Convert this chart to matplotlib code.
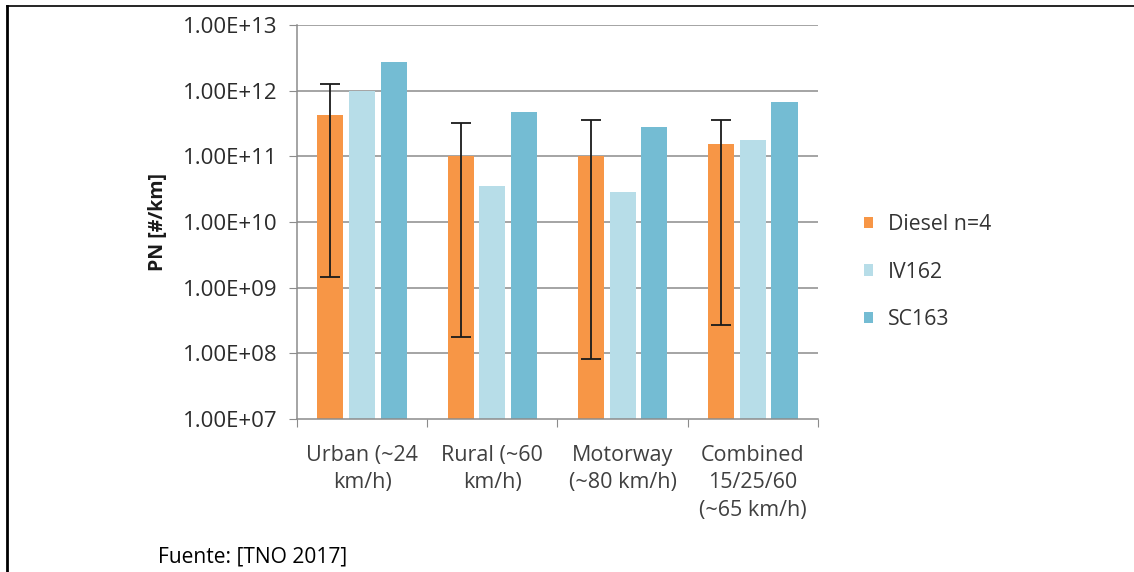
import numpy as np
import matplotlib.pyplot as plt
from matplotlib.lines import Line2D
from matplotlib.ticker import FuncFormatter, FixedLocator

plt.rcParams['font.family'] = ['Open Sans', 'DejaVu Sans']

categories = ['Urban (~24\nkm/h)', 'Rural (~60\nkm/h)', 'Motorway\n(~80 km/h)',
              'Combined\n15/25/60\n(~65 km/h)']
series_names = ['Diesel n=4', 'IV162', 'SC163']
diesel = [4.3e11, 1.0e11, 1.02e11, 1.55e11]
diesel_low = [1.45e9, 1.8e8, 8.2e7, 2.7e8]
diesel_high = [1.26e12, 3.2e11, 3.6e11, 3.6e11]
iv162 = [1.0e12, 3.5e10, 2.9e10, 1.76e11]
sc163 = [2.7e12, 4.8e11, 2.8e11, 6.7e11]
colors = ['#F79646', '#B7DDE8', '#74BCD3']

fig = plt.figure(figsize=(11.34, 5.72), dpi=100)
ax = fig.add_axes([0.2619, 0.2675, 0.4594, 0.6888])

x = np.arange(len(categories))
w = 0.2
off = 0.243
ax.set_yscale('log')
ax.set_ylim(1e7, 1e13)
ax.set_xlim(-0.5, 3.5)

for v in [1e8, 1e9, 1e10, 1e11, 1e12, 1e13]:
    ax.axhline(v, color='#8c8c8c', lw=1.1, zorder=0)

ax.bar(x - off, diesel, w, color=colors[0], label=series_names[0], zorder=2)
ax.bar(x, iv162, w, color=colors[1], label=series_names[1], zorder=2)
ax.bar(x + off, sc163, w, color=colors[2], label=series_names[2], zorder=2)

d = np.array(diesel)
yerr = [d - np.array(diesel_low), np.array(diesel_high) - d]
ax.errorbar(x - off, d, yerr=yerr, fmt='none', ecolor='#1a1a1a', elinewidth=1.3,
            capsize=7, capthick=1.3, zorder=3)

ax.yaxis.set_major_locator(FixedLocator([1e7, 1e8, 1e9, 1e10, 1e11, 1e12, 1e13]))
ax.yaxis.set_minor_locator(FixedLocator([]))
ax.yaxis.set_major_formatter(FuncFormatter(lambda v, p: f'{v:.2E}'))
ax.tick_params(axis='y', length=6, color='#8c8c8c', labelsize=16, labelcolor='#2b2b2b', pad=8)

ax.set_xticks(np.arange(-0.5, 4, 1.0))
ax.set_xticklabels([])
ax.set_xticks(x, minor=True)
ax.set_xticklabels(categories, minor=True, fontsize=15.5, color='#404040', linespacing=1.38)
ax.tick_params(axis='x', which='major', length=6, color='#8c8c8c')
ax.tick_params(axis='x', which='minor', length=0, pad=19)

for s in ['top', 'right']:
    ax.spines[s].set_visible(False)
for s in ['left', 'bottom']:
    ax.spines[s].set_color('#8c8c8c')
    ax.spines[s].set_linewidth(1.1)

ax.set_ylabel('PN [#/km]', fontsize=14, fontweight='bold', color='#1a1a1a')
ax.yaxis.set_label_coords(-0.2476, 0.5)

ax.legend(loc='center left', bbox_to_anchor=(1.051, 0.373), frameon=False, fontsize=15.3,
          handlelength=0.45, handleheight=0.45, handletextpad=0.7, labelspacing=1.25,
          labelcolor='#333333')

# page frame lines
fig.add_artist(Line2D([7 / 1134, 7 / 1134], [0, 1 - 6 / 572], transform=fig.transFigure,
                      color='black', lw=2))
fig.add_artist(Line2D([7 / 1134, 1134 / 1134], [1 - 6 / 572, 1 - 6 / 572],
                      transform=fig.transFigure, color='black', lw=1.2))

fig.text(158 / 1134, 1 - 557 / 572, 'Fuente: [TNO 2017]', fontsize=15.1, va='center',
         color='black')

fig.savefig('out.png', dpi=100)
